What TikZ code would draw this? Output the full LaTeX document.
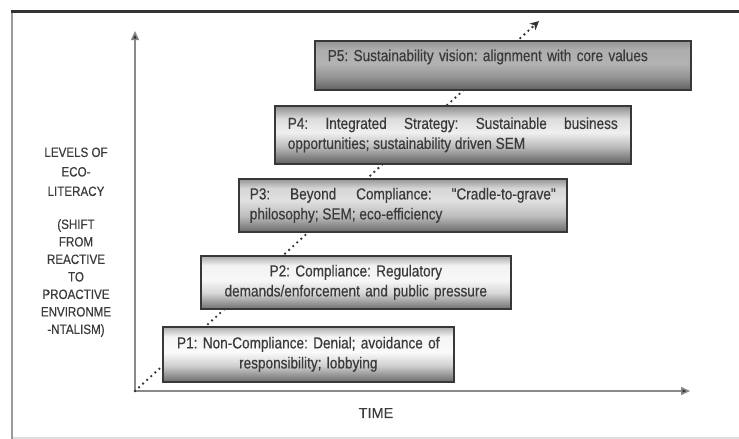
\documentclass[tikz,border=0pt]{standalone}
\usepackage{fontspec}
\setmainfont{Liberation Sans}[FakeStretch=0.85, FakeBold=0.4, Ligatures=TeXOff]
\newfontfamily\plainsans{Liberation Sans}[FakeBold=0.3]
\newfontfamily\narrowsans{Liberation Sans}[FakeStretch=0.86, FakeBold=0.3]
\usetikzlibrary{arrows.meta}
\definecolor{txt}{HTML}{3A3A3A}
\definecolor{edge}{HTML}{383838}
\definecolor{axisgray}{HTML}{8A8A8A}
\definecolor{framegray}{HTML}{9A9A9A}
\definecolor{topline}{HTML}{333333}
\definecolor{botline}{HTML}{DDDDDD}
\pgfdeclareverticalshading{shA}{100bp}{rgb(0bp)=(0.42,0.42,0.42); rgb(25bp)=(0.42,0.42,0.42); rgb(40bp)=(0.82,0.82,0.82); rgb(52bp)=(0.98,0.98,0.98); rgb(66bp)=(0.96,0.96,0.96); rgb(75bp)=(0.68,0.68,0.68); rgb(100bp)=(0.68,0.68,0.68)}
\pgfdeclareverticalshading{shB}{100bp}{rgb(0bp)=(0.44,0.44,0.44); rgb(25bp)=(0.44,0.44,0.44); rgb(40bp)=(0.84,0.84,0.84); rgb(52bp)=(0.97,0.97,0.97); rgb(66bp)=(0.95,0.95,0.95); rgb(75bp)=(0.66,0.66,0.66); rgb(100bp)=(0.66,0.66,0.66)}
\pgfdeclareverticalshading{shC}{100bp}{rgb(0bp)=(0.42,0.42,0.42); rgb(25bp)=(0.42,0.42,0.42); rgb(40bp)=(0.74,0.74,0.74); rgb(55bp)=(0.88,0.88,0.88); rgb(66bp)=(0.84,0.84,0.84); rgb(75bp)=(0.58,0.58,0.58); rgb(100bp)=(0.58,0.58,0.58)}
\pgfdeclareverticalshading{shD}{100bp}{rgb(0bp)=(0.38,0.38,0.38); rgb(25bp)=(0.38,0.38,0.38); rgb(40bp)=(0.74,0.74,0.74); rgb(52bp)=(0.94,0.94,0.94); rgb(64bp)=(0.86,0.86,0.86); rgb(75bp)=(0.55,0.55,0.55); rgb(100bp)=(0.55,0.55,0.55)}
\pgfdeclareverticalshading{shE}{100bp}{rgb(0bp)=(0.38,0.38,0.38); rgb(25bp)=(0.38,0.38,0.38); rgb(38bp)=(0.58,0.58,0.58); rgb(52bp)=(0.70,0.70,0.70); rgb(66bp)=(0.68,0.68,0.68); rgb(75bp)=(0.58,0.58,0.58); rgb(100bp)=(0.58,0.58,0.58)}
\frenchspacing
\hyphenpenalty=10000
\exhyphenpenalty=10000
\begin{document}
\begin{tikzpicture}[x=1pt,y=-1pt,
  phase/.style={draw=edge, line width=1.6pt, anchor=north west, inner xsep=0pt, inner ysep=0pt,
    text=txt, font=\fontsize{16}{20}\selectfont},
  axisline/.style={draw=axisgray, line width=1.5pt, -{Triangle[length=9pt,width=8pt,fill=topline]}},
  sidetext/.style={text=txt, font=\narrowsans\fontsize{13.5}{17.5}\selectfont, align=center}]
\useasboundingbox (0,0) rectangle (739,439);
\fill[white] (0,0) rectangle (739,439);
% frame
\draw[draw=botline, line width=1.2pt] (11,438) -- (739,438);
\draw[draw=framegray, line width=1.8pt] (12,11) -- (12,439);
\draw[draw=topline, line width=3pt] (10.5,11) -- (739,11);
% axes
\coordinate (O) at (135,391);
\coordinate (ytip) at (135,31);
\coordinate (xtip) at (690,391);
\coordinate (dtip) at (539,21);
\draw[axisline] (O) -- (ytip);
\draw[axisline] (O) -- (xtip);
% dotted trend
\draw[draw=topline, line width=2.6pt, line cap=round, dash pattern=on 0pt off 5.5pt,
  -{Stealth[length=9pt,width=9pt,fill=topline,line width=0pt]}] (O) -- (dtip);
% phases
\node[phase, shading=shA, minimum width=291, minimum height=55, text width=275, align=center]
  (p1) at (162,326) {P1: Non-Compliance: Denial; avoidance of\\responsibility; lobbying};
\node[phase, shading=shB, minimum width=310, minimum height=53, text width=280, align=center]
  (p2) at (200,255) {P2: Compliance: Regulatory\\demands/enforcement and public pressure};
\node[phase, shading=shC, minimum width=328, minimum height=53, text width=306, align=justify]
  (p3) at (238,178) {P3: Beyond Compliance: "Cradle-to-grave"\linebreak philosophy; SEM; eco-efficiency};
\node[phase, shading=shD, minimum width=356, minimum height=58, text width=330, align=justify]
  (p4) at (274,105) {P4: Integrated Strategy: Sustainable business\linebreak opportunities; sustainability driven SEM};
\node[phase, shading=shE, minimum width=376, minimum height=49, text width=350, align=left]
  (p5) at (314,40) {P5: Sustainability vision: alignment with core values\\\mbox{}};
% labels
\node[sidetext, anchor=north] (ylab) at (76,144) {LEVELS OF\\[2pt]ECO-\\[2pt]LITERACY\\[15.5pt](SHIFT\\FROM\\REACTIVE\\TO\\PROACTIVE\\ENVIRONME\\-NTALISM)};
\node[text=txt, font=\plainsans\fontsize{14.5}{16}\selectfont] (xlab) at (376,413) {TIME};
\end{tikzpicture}
\end{document}
